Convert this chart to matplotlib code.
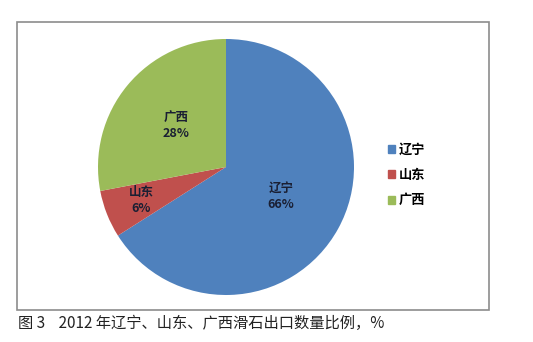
import numpy as np
import matplotlib.pyplot as plt
from matplotlib.patches import Rectangle

plt.rcParams['font.family'] = ['Noto Sans CJK SC', 'DejaVu Sans']

# 数据
provinces = ['辽宁', '山东', '广西']
shares = [66, 6, 28]
colors = ['#4F81BD', '#C0504D', '#9BBB59']
caption = '图 3    2012 年辽宁、山东、广西滑石出口数量比例，%'

W, H = 533, 342
fig = plt.figure(figsize=(W / 100, H / 100), dpi=100)

# 外框
fig.patches.append(Rectangle((17 / W, 1 - 310 / H), 472 / W, 288 / H,
                             transform=fig.transFigure, fill=False,
                             edgecolor='#8c8c8c', linewidth=1.2))

# 饼图
cx, cy, r = 226, 167, 128
ax = fig.add_axes([(cx - r) / W, 1 - (cy + r) / H, 2 * r / W, 2 * r / H])
wedges, _ = ax.pie(shares, colors=colors, startangle=90, counterclock=False,
                   wedgeprops=dict(edgecolor='none'))
ax.set_aspect('equal')
ax.set_xlim(-1, 1)
ax.set_ylim(-1, 1)

dist = [0.49, 0.71, 0.51]
for w, name, v, d in zip(wedges, provinces, shares, dist):
    ang = np.deg2rad((w.theta1 + w.theta2) / 2)
    x, y = d * np.cos(ang), d * np.sin(ang)
    ax.text(x, y, f'{name}\n{v}%', ha='center', va='center', fontsize=9,
            fontweight='bold', color='#1a1f33', linespacing=1.25)

# 图例
handles = [Rectangle((0, 0), 1, 1, color=c) for c in colors]
fig.legend(handles, provinces, loc='center left',
           bbox_to_anchor=(376 / W, 1 - 175 / H), frameon=False,
           handlelength=0.55, handleheight=0.55, handletextpad=0.3,
           labelspacing=0.85, prop=dict(size=9.5, weight='bold'))

fig.text(18 / W, 1 - 323 / H, caption, ha='left', va='center', fontsize=11,
         color='#222222')

fig.savefig('out.png', dpi=100)
